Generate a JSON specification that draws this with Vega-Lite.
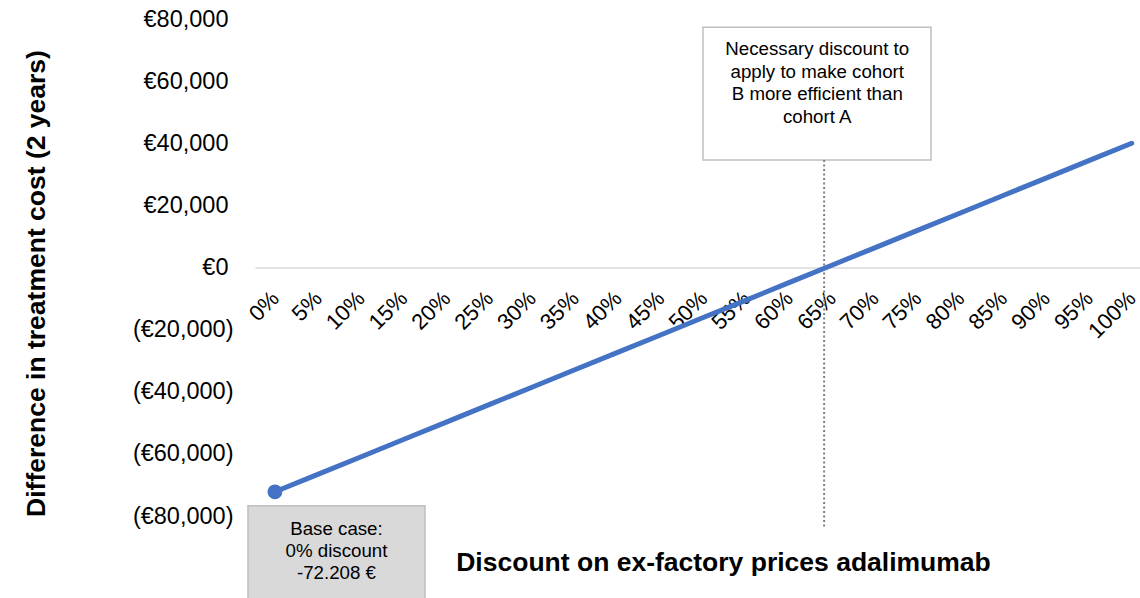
{
  "$schema": "https://vega.github.io/schema/vega-lite/v6.json",
  "width": 885,
  "height": 497,
  "autosize": {"type": "none"},
  "padding": {"left": 255, "top": 19, "right": 0, "bottom": 82},
  "background": "white",
  "config": {
    "view": {"stroke": null},
    "font": "Liberation Sans",
    "axis": {"labelFont": "Liberation Sans", "titleFont": "Liberation Sans", "labelColor": "#000000", "titleColor": "#000000"}
  },
  "datasets": {
    "series": [
      {"discount": 0, "diff": -72208},
      {"discount": 5, "diff": -66598},
      {"discount": 10, "diff": -60987},
      {"discount": 15, "diff": -55377},
      {"discount": 20, "diff": -49766},
      {"discount": 25, "diff": -44156},
      {"discount": 30, "diff": -38546},
      {"discount": 35, "diff": -32935},
      {"discount": 40, "diff": -27325},
      {"discount": 45, "diff": -21714},
      {"discount": 50, "diff": -16104},
      {"discount": 55, "diff": -10494},
      {"discount": 60, "diff": -4883},
      {"discount": 65, "diff": 727},
      {"discount": 70, "diff": 6338},
      {"discount": 75, "diff": 11948},
      {"discount": 80, "diff": 17558},
      {"discount": 85, "diff": 23169},
      {"discount": 90, "diff": 28779},
      {"discount": 95, "diff": 34390},
      {"discount": 100, "diff": 40000}
    ]
  },
  "layer": [
    {
      "data": {"values": [{"x": 49.96, "x2": 76.57, "y": 77350, "y2": 34580}]},
      "mark": {"type": "rect", "fill": "white", "stroke": "#bfbfbf", "strokeWidth": 1.5},
      "encoding": {
        "x": {"field": "x", "type": "quantitative", "scale": {"domain": [-2.33, 100.97], "nice": false, "zero": false}},
        "x2": {"field": "x2"},
        "y": {"field": "y", "type": "quantitative", "scale": {"domain": [-80000, 80000], "nice": false}},
        "y2": {"field": "y2"}
      }
    },
    {
      "data": {"values": [{"x": -3.15, "x2": 17.51, "y": -76710, "y2": -112000}]},
      "mark": {"type": "rect", "fill": "#d9d9d9", "stroke": "#bfbfbf", "strokeWidth": 1.5},
      "encoding": {
        "x": {"field": "x", "type": "quantitative"},
        "x2": {"field": "x2"},
        "y": {"field": "y", "type": "quantitative"},
        "y2": {"field": "y2"}
      }
    },
    {
      "data": {"values": [{"x": 64.1, "y": 34580, "y2": -83460}]},
      "mark": {"type": "rule", "stroke": "#7f7f7f", "strokeWidth": 2, "strokeDash": [2, 2.5]},
      "encoding": {
        "x": {"field": "x", "type": "quantitative"},
        "y": {"field": "y", "type": "quantitative"},
        "y2": {"field": "y2"}
      }
    },
    {
      "data": {"name": "series"},
      "mark": {"type": "line", "color": "#4472C4", "strokeWidth": 5, "strokeCap": "round"},
      "encoding": {
        "x": {
          "field": "discount",
          "type": "quantitative",
          "axis": {
            "orient": "bottom",
            "offset": -248.5,
            "values": [0, 5, 10, 15, 20, 25, 30, 35, 40, 45, 50, 55, 60, 65, 70, 75, 80, 85, 90, 95, 100],
            "labelExpr": "datum.value + '%'",
            "labelAngle": -45,
            "labelAlign": "right",
            "labelBaseline": "middle",
            "labelFontSize": 22,
            "labelPadding": 27,
            "labelOverlap": false,
            "labelFlush": false,
            "ticks": false,
            "tickSize": 0,
            "grid": false,
            "domain": true,
            "domainColor": "#d9d9d9",
            "domainWidth": 1.5,
            "title": "Discount on ex-factory prices adalimumab",
            "titleFontSize": 26.5,
            "titleFontWeight": "bold",
            "titleX": 468,
            "titleY": 294.5,
            "titleAlign": "center",
            "titleBaseline": "middle",
            "titleAngle": 0
          }
        },
        "y": {
          "field": "diff",
          "type": "quantitative",
          "axis": {
            "orient": "left",
            "values": [-80000, -60000, -40000, -20000, 0, 20000, 40000, 60000, 80000],
            "labelExpr": "datum.value >= 0 ? '€' + format(datum.value, ',') : '(€' + format(-datum.value, ',') + ')'",
            "labelFontSize": 23.5,
            "labelPadding": {"condition": {"test": "datum.value >= 0", "value": 27}, "value": 22},
            "labelOverlap": false,
            "labelFlush": false,
            "ticks": false,
            "tickSize": 0,
            "domain": false,
            "grid": false,
            "title": "Difference in treatment cost (2 years)",
            "titleFontSize": 26.5,
            "titleFontWeight": "bold",
            "titleAngle": -90,
            "titleX": -211,
            "titleY": 264,
            "titleAlign": "center",
            "titleBaseline": "alphabetic"
          }
        }
      }
    },
    {
      "data": {"name": "series"},
      "transform": [{"filter": "datum.discount == 0"}],
      "mark": {"type": "point", "filled": true, "color": "#4472C4", "size": 220, "opacity": 1},
      "encoding": {
        "x": {"field": "discount", "type": "quantitative"},
        "y": {"field": "diff", "type": "quantitative"}
      }
    },
    {
      "data": {"values": [
        {"x": 63.3, "y": 70500, "t": "Necessary discount to"},
        {"x": 63.3, "y": 62980, "t": "apply to make cohort"},
        {"x": 63.3, "y": 55800, "t": "B more efficient than"},
        {"x": 63.3, "y": 48500, "t": "cohort A"}
      ]},
      "mark": {"type": "text", "fontSize": 18.7, "font": "Liberation Sans", "color": "#000000", "align": "center", "baseline": "middle"},
      "encoding": {
        "x": {"field": "x", "type": "quantitative"},
        "y": {"field": "y", "type": "quantitative"},
        "text": {"field": "t"}
      }
    },
    {
      "data": {"values": [
        {"x": 7.18, "y": -84110, "t": "Base case:"},
        {"x": 7.18, "y": -91190, "t": "0% discount"},
        {"x": 7.18, "y": -98260, "t": "-72.208 €"}
      ]},
      "mark": {"type": "text", "fontSize": 18.7, "font": "Liberation Sans", "color": "#000000", "align": "center", "baseline": "middle"},
      "encoding": {
        "x": {"field": "x", "type": "quantitative"},
        "y": {"field": "y", "type": "quantitative"},
        "text": {"field": "t"}
      }
    }
  ]
}
